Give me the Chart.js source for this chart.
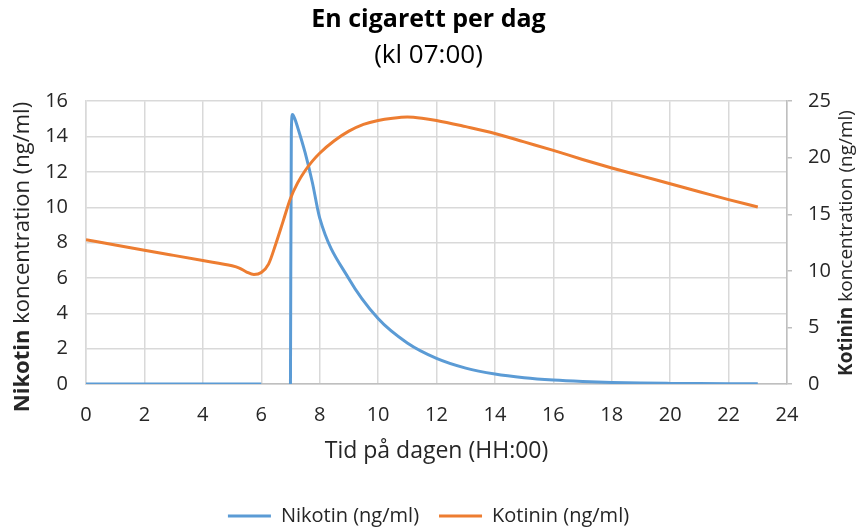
<!DOCTYPE html>
<html>
<head>
<meta charset="utf-8">
<script src="https://cdn.jsdelivr.net/npm/chart.js@4/dist/chart.umd.min.js"></script>
<style>
  html, body { margin: 0; padding: 0; background: #ffffff; }
  #wrap { width: 857px; height: 528px; }
</style>
</head>
<body>
<div id="wrap"><canvas id="chart" width="857" height="528"></canvas></div>
<script>
// Nicotine in blood (ng/ml) over the day, one cigarette at 07:00
const nikotinHours  = [0, 1, 2, 3, 4, 5, 6, 6.5, 7, 7.03, 7.07, 7.15, 7.25, 7.5, 7.75, 8, 9, 10, 11, 12, 13, 14, 15, 16, 17, 18, 19, 20, 21, 22, 23];
const nikotinValues = [0, 0, 0, 0, 0, 0, 0, null, 0, 14.3, 15.25, 15.0, 14.5, 13.1, 11.4, 9.4, 5.95, 3.7, 2.32, 1.45, 0.9, 0.56, 0.35, 0.22, 0.14, 0.09, 0.055, 0.035, 0.022, 0.014, 0.009];

// Cotinine in blood (ng/ml), right-hand axis
const kotininHours  = [0, 1, 2, 3, 4, 5, 5.25, 5.5, 5.75, 6, 6.25, 6.5, 6.75, 7, 7.25, 7.5, 7.75, 8, 8.5, 9, 9.5, 10, 10.5, 11, 11.5, 12, 13, 14, 15, 16, 17, 18, 19, 20, 21, 22, 23];
const kotininValues = [12.75, 12.29, 11.83, 11.37, 10.91, 10.45, 10.25, 9.9, 9.68, 9.85, 10.6, 12.4, 14.4, 16.4, 17.8, 18.85, 19.7, 20.4, 21.5, 22.35, 22.95, 23.3, 23.5, 23.6, 23.5, 23.3, 22.75, 22.15, 21.4, 20.65, 19.85, 19.1, 18.4, 17.7, 17.0, 16.3, 15.65];

// Axis ranges and tick steps
const hourRange = [0, 24];
const hourStep = 2;
const nikotinRange = [0, 16];
const nikotinStep = 2;
const kotininRange = [0, 25];
const kotininStep = 5;

const seriesNames = ['Nikotin (ng/ml)', 'Kotinin (ng/ml)'];
const chartTitle = 'En cigarett per dag';
const chartSubtitle = '(kl 07:00)';
const xTitle = 'Tid på dagen (HH:00)';
const leftTitle = [['Nikotin', 'bold'], [' koncentration (ng/ml)', 'normal']];
const rightTitle = [['Kotinin', 'bold'], [' koncentration (ng/ml)', 'normal']];

const FONT = '"Open Sans"';
const BLUE = '#5B9BD5';
const ORANGE = '#ED7D31';
const GRID = '#D9D9D9';
const TEXT = '#262626';

const pairs = (xs, ys) => xs.map((x, i) => ({ x: x, y: ys[i] }));

// Rotated axis titles with a bold first word
function drawRotatedTitle(ctx, parts, cx, cy, size) {
  ctx.save();
  ctx.translate(cx, cy);
  ctx.rotate(-Math.PI / 2);
  ctx.textBaseline = 'middle';
  ctx.textAlign = 'left';
  ctx.fillStyle = TEXT;
  let total = 0;
  const widths = parts.map(p => {
    ctx.font = p[1] + ' ' + size + 'px ' + FONT;
    const w = ctx.measureText(p[0]).width;
    total += w;
    return w;
  });
  let x = -total / 2;
  parts.forEach((p, i) => {
    ctx.font = p[1] + ' ' + size + 'px ' + FONT;
    ctx.fillText(p[0], x, 0);
    x += widths[i];
  });
  ctx.restore();
}

const sideTitles = {
  id: 'sideTitles',
  afterDraw(chart) {
    const ctx = chart.ctx;
    drawRotatedTitle(ctx, leftTitle, 23, 257, 22);
    drawRotatedTitle(ctx, rightTitle, 847, 243, 19);
  }
};

new Chart(document.getElementById('chart'), {
  type: 'line',
  data: {
    datasets: [
      {
        label: seriesNames[0],
        data: pairs(nikotinHours, nikotinValues),
        yAxisID: 'y',
        borderColor: BLUE,
        backgroundColor: BLUE,
        borderWidth: 3,
        pointRadius: 0,
        cubicInterpolationMode: 'monotone',
        spanGaps: false,
        order: 1
      },
      {
        label: seriesNames[1],
        data: pairs(kotininHours, kotininValues),
        yAxisID: 'y2',
        borderColor: ORANGE,
        backgroundColor: ORANGE,
        borderWidth: 3,
        pointRadius: 0,
        cubicInterpolationMode: 'monotone',
        order: 0
      }
    ]
  },
  options: {
    responsive: false,
    animation: false,
    layout: { padding: { left: 0, right: 0, top: 0, bottom: -8 } },
    plugins: {
      title: {
        display: true,
        text: chartTitle,
        color: '#000',
        font: { family: FONT, size: 25, weight: 'bold' },
        padding: { top: 5, bottom: 0 }
      },
      subtitle: {
        display: true,
        text: chartSubtitle,
        color: '#000',
        font: { family: FONT, size: 26, weight: 'normal' },
        padding: { top: 5, bottom: 30 }
      },
      legend: {
        position: 'bottom',
        labels: {
          color: TEXT,
          font: { family: FONT, size: 20 },
          boxWidth: 43,
          boxHeight: 3,
          padding: 20,
          sort: (a, b) => a.datasetIndex - b.datasetIndex,
          generateLabels(chart) {
            const items = Chart.defaults.plugins.legend.labels.generateLabels(chart);
            items.forEach(it => { it.lineWidth = 0; it.strokeStyle = 'rgba(0,0,0,0)'; });
            return items;
          }
        }
      },
      tooltip: { enabled: false }
    },
    scales: {
      x: {
        type: 'linear',
        min: hourRange[0],
        max: hourRange[1],
        afterFit(scale) { scale.height = 102; },
        ticks: {
          stepSize: hourStep,
          color: TEXT,
          font: { family: FONT, size: 20 },
          padding: 19,
          maxRotation: 0
        },
        grid: { color: GRID, lineWidth: 1.5, drawTicks: false },
        border: { color: '#BFBFBF', width: 1.5 },
        title: {
          display: true,
          text: xTitle,
          color: TEXT,
          font: { family: FONT, size: 23 },
          padding: { top: 0, bottom: 21 }
        }
      },
      y: {
        position: 'left',
        min: nikotinRange[0],
        max: nikotinRange[1],
        afterFit(scale) { scale.width = 86; },
        ticks: {
          stepSize: nikotinStep,
          color: TEXT,
          font: { family: FONT, size: 20 },
          padding: 18
        },
        grid: { color: GRID, lineWidth: 1.5, drawTicks: false },
        border: { color: GRID, width: 1.5 }
      },
      y2: {
        position: 'right',
        min: kotininRange[0],
        max: kotininRange[1],
        afterFit(scale) { scale.width = 70; },
        ticks: {
          stepSize: kotininStep,
          color: TEXT,
          font: { family: FONT, size: 20 },
          padding: 16
        },
        grid: { drawOnChartArea: false, drawTicks: true, tickLength: 5, color: '#BFBFBF', lineWidth: 1.5 },
        border: { color: '#BFBFBF', width: 1.5 }
      }
    }
  },
  plugins: [sideTitles]
});
</script>
</body>
</html>
